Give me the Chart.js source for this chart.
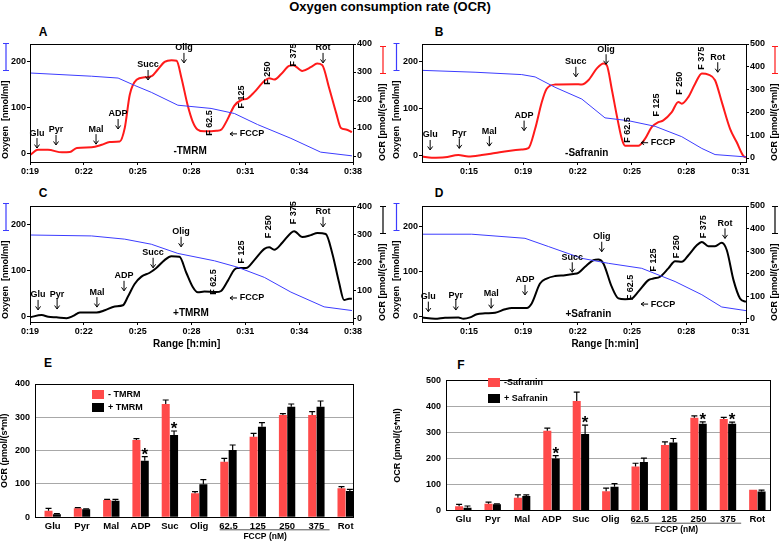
<!DOCTYPE html>
<html>
<head>
<meta charset="utf-8">
<title>Oxygen consumption rate (OCR)</title>
<script src="https://cdn.jsdelivr.net/npm/chart.js@4.4.1/dist/chart.umd.min.js"></script>
<style>
  body { margin: 0; background: #fff; }
  #page { position: relative; width: 780px; height: 541px; overflow: hidden; background: #fff;
          font-family: "Liberation Sans", Arial, sans-serif; font-weight: bold; color: #000; }
  #page canvas { position: absolute; }
  .lbl { position: absolute; transform: translate(-50%, -50%); line-height: 1; white-space: nowrap; }
</style>
</head>
<body>
<div id="page">
  <div class="lbl" style="left:390px;top:5.5px;font-size:13px">Oxygen consumption rate (OCR)</div>
  <div class="lbl" style="left:43px;top:32px;font-size:12px">A</div>
  <div class="lbl" style="left:439px;top:32px;font-size:12px">B</div>
  <div class="lbl" style="left:43px;top:193px;font-size:12px">C</div>
  <div class="lbl" style="left:439px;top:193px;font-size:12px">D</div>
  <div class="lbl" style="left:48px;top:363px;font-size:12px">E</div>
  <div class="lbl" style="left:461px;top:365px;font-size:12px">F</div>
  <canvas id="cA" width="390" height="152" style="left:0;top:28px"></canvas>
  <canvas id="cB" width="390" height="152" style="left:390px;top:28px"></canvas>
  <canvas id="cC" width="390" height="165" style="left:0;top:190px"></canvas>
  <canvas id="cD" width="390" height="165" style="left:390px;top:190px"></canvas>
  <canvas id="cE" width="390" height="171" style="left:0;top:370px"></canvas>
  <canvas id="cF" width="390" height="171" style="left:390px;top:370px"></canvas>
</div>
<script>
const FONT = '"Liberation Sans", Arial, sans-serif';
Chart.defaults.font.family = FONT;
Chart.defaults.font.weight = 'bold';
Chart.defaults.font.size = 9;
Chart.defaults.color = '#000';

const RED = '#ff1a1a', BLUE = '#3c3cff', BLACK = '#000000', BAR_RED = '#ff4a4a';

// time axes, minutes
const timeTicksAC = [19, 22, 25, 28, 31, 34, 37];
const timeLabelsAC = ['0:19', '0:22', '0:25', '0:28', '0:31', '0:34', '0:38'];
const timeTicksBD = [16, 19, 22, 25, 28, 31];
const timeLabelsBD = ['0:15', '0:19', '0:22', '0:25', '0:28', '0:31'];
const o2Ticks = [0, 100, 200];
const ocrTicksAC = [0, 100, 200, 300, 400];
const ocrTicksBD = [0, 100, 200, 300, 400, 500];

const evNames = ['Glu', 'Pyr', 'Mal', 'ADP', 'Succ', 'Olig', 'Rot'];
const fNames = ['F 62.5', 'F 125', 'F 250', 'F 375'];

// A: -TMRM
const aOcrT = [19.00,19.44,20.00,20.78,21.22,21.61,22.44,23.00,23.44,24.00,24.28,24.56,24.94,25.39,25.78,26.11,26.50,26.89,27.17,27.44,27.78,28.06,28.33,28.72,29.39,29.67,30.00,30.39,30.78,31.11,31.50,32.06,32.33,32.61,33.00,33.44,33.67,34.17,34.67,35.00,35.28,35.67,36.06,36.33,36.61,36.94];
const aOcrV = [3,22,22,13,14,29,31,40,50,52,100,219,272,281,285,308,336,342,340,279,183,124,95,88,90,95,130,180,200,205,228,268,278,273,293,322,324,304,318,330,325,243,154,100,95,85];
const aO2T = [19.00,22.43,23.91,24.83,25.76,27.24,29.09,30.39,31.68,33.54,35.20,36.94];
const aO2V = [176,169,165,149,134,106,99,88,64,34,4,-4];
const aEvT = [19.39,20.45,22.68,23.91,25.58,27.58,35.33];
const aEvV = [82,93,96,150,325,386,386];
const aFT = [29.03,30.76,32.21,33.66];
const aFV = [118,211,296,361];

// B: -Safranin
const bOcrT = [13.40,13.94,14.67,15.41,15.96,16.70,17.44,18.17,18.91,19.28,19.65,20.02,20.29,20.75,21.86,22.23,22.59,23.06,23.42,23.61,23.88,24.16,24.44,24.62,25.35,25.72,26.09,26.46,26.73,27.20,27.56,27.75,28.12,28.49,28.86,29.22,29.59,29.96,30.42,30.79,31.15,31.30];
const bOcrV = [7,1,3,13,7,13,22,31,37,43,128,246,304,322,324,322,341,393,415,407,304,187,84,54,54,84,135,157,165,201,246,238,268,326,371,366,341,246,128,69,10,3];
const bO2T = [13.40,16.33,18.91,19.65,20.75,22.23,23.51,24.80,26.28,27.75,28.86,29.59,31.30];
const bO2V = [182,178,173,168,146,121,81,75,63,41,16,3,-2];
const bEvT = [13.85,15.46,17.12,19.04,21.90,23.57,29.74];
const bEvV = [101,108,118,186,422,477,442];
const bFT = [24.75,26.37,27.62,28.86];
const bFV = [123,232,328,437];

// C: +TMRM
const cOcrT = [19.00,19.65,20.02,20.48,21.04,21.41,21.78,22.71,23.17,23.72,24.18,24.46,24.83,25.21,25.67,26.04,26.50,26.87,27.33,27.71,28.07,28.35,28.72,29.37,29.65,30.02,30.39,30.57,31.04,31.50,32.06,32.33,32.61,33.07,33.54,33.72,34.18,34.65,35.02,35.48,35.85,36.22,36.50,36.78,36.94];
const cOcrV = [6,14,8,6,3,11,23,23,31,45,49,80,125,151,165,182,210,224,222,165,114,95,98,96,100,136,176,182,182,210,250,256,247,273,307,313,292,299,307,303,233,131,68,72,72];
const cO2T = [19.00,22.43,24.28,25.76,27.24,29.28,30.57,32.06,33.54,35.39,36.94];
const cO2V = [178,176,169,158,138,122,108,86,54,22,14];
const cEvT = [19.45,20.51,22.73,24.24,25.86,27.42,35.33];
const cEvV = [86,89,96,154,236,311,382];
const cFT = [29.20,30.76,32.27,33.66];
const cFV = [132,239,329,379];

// D: +Safranin
const dOcrT = [13.40,14.12,14.67,15.41,15.69,16.06,16.43,16.88,17.44,17.99,18.36,19.19,19.46,19.92,20.29,20.75,21.30,21.76,22.04,22.41,22.87,23.14,23.42,23.88,24.25,24.62,24.99,25.35,25.91,26.18,26.55,27.01,27.38,27.75,28.12,28.58,28.86,29.22,29.59,29.96,30.24,30.61,30.97,31.30];
const dOcrV = [7,1,6,7,1,7,21,25,28,43,49,49,69,157,179,190,194,199,204,231,260,263,246,143,91,87,91,121,172,179,187,224,256,253,282,326,341,322,322,337,304,172,91,76];
const dO2T = [13.40,16.15,19.09,20.38,22.23,23.70,25.54,27.38,28.86,29.96,31.30];
const dO2V = [182,182,173,155,129,118,107,78,49,22,14];
const dEvT = [13.75,15.27,17.22,19.09,21.70,23.33,30.14];
const dEvV = [99,106,114,173,273,364,423];
const dFT = [24.90,26.18,27.47,28.94];
const dFV = [139,261,320,408];

// E / F bar summaries
const barCats = ['Glu', 'Pyr', 'Mal', 'ADP', 'Suc', 'Olig', '62.5', '125', '250', '375', 'Rot'];
const eMinus = [20,27,52,232,340,72,167,242,307,307,87];
const eMinusErr = [7,2,2,4,12,5,10,10,4,10,5];
const ePlus = [9,24,50,170,247,99,202,272,332,332,79];
const ePlusErr = [2,1,4,12,12,14,15,12,8,17,5];
const eStars = [3,4];
const fMinus = [17,27,50,307,421,75,170,252,357,352,80];
const fMinusErr = [7,6,11,10,34,12,12,12,7,6,0];
const fPlus = [11,25,56,200,294,92,187,262,334,334,74];
const fPlusErr = [7,1,5,11,34,12,15,15,7,6,5];
const fStars = [3,4,8,9];

function arrowDown(ctx, x, y0, y1) {
  ctx.beginPath();
  ctx.moveTo(x, y0); ctx.lineTo(x, y1);
  ctx.moveTo(x - 2.5, y1 - 3.5); ctx.lineTo(x, y1); ctx.lineTo(x + 2.5, y1 - 3.5);
  ctx.stroke();
}

function arrowLeft(ctx, x0, x1, y) {
  ctx.beginPath();
  ctx.moveTo(x1, y); ctx.lineTo(x0, y);
  ctx.moveTo(x0 + 3, y - 2); ctx.lineTo(x0, y); ctx.lineTo(x0 + 3, y + 2);
  ctx.stroke();
}

// rotated axis title with the little coloured bracket above it
function axisTitle(ctx, x, y, text, beamColor) {
  ctx.save();
  ctx.translate(x, y);
  ctx.rotate(-Math.PI / 2);
  ctx.textAlign = 'left'; ctx.textBaseline = 'middle';
  ctx.font = 'bold 9px ' + FONT;
  ctx.fillStyle = '#000';
  ctx.fillText(text, 0, 0);
  const s = ctx.measureText(text).width + 10, e = s + 27;
  ctx.strokeStyle = beamColor; ctx.lineWidth = 1.2;
  ctx.beginPath();
  ctx.moveTo(s, 0); ctx.lineTo(e, 0);
  ctx.moveTo(s, -3); ctx.lineTo(s, 3);
  ctx.moveTo(e, -3); ctx.lineTo(e, 3);
  ctx.stroke();
  ctx.restore();
}

function makeTrace(id, p) {
  const deco = {
    id: 'deco',
    afterDatasetsDraw(chart) {
      const { ctx, chartArea: a, scales: { x, yR } } = chart;
      const px = t => x.getPixelForValue(t), py = v => yR.getPixelForValue(v);
      ctx.save();
      ctx.strokeStyle = '#000'; ctx.lineWidth = 1;
      ctx.strokeRect(Math.round(a.left) + 0.5, Math.round(a.top) + 0.5,
                     Math.round(a.right - a.left), Math.round(a.bottom - a.top));
      ctx.fillStyle = '#000';
      ctx.textAlign = 'center'; ctx.textBaseline = 'middle';
      ctx.font = 'bold 9px ' + FONT;
      evNames.forEach((n, i) => {
        const X = px(p.evT[i]), Y = py(p.evV[i]);
        ctx.fillText(n, X, Y);
        arrowDown(ctx, X, Y + 5, Y + 15);
      });
      fNames.forEach((n, i) => {
        ctx.save();
        ctx.translate(px(p.fT[i]), py(p.fV[i]));
        ctx.rotate(-Math.PI / 2);
        ctx.fillText(n, 0, 0);
        ctx.restore();
      });
      const nx = px(p.note[0]), ny = py(p.note[1]);
      ctx.fillText('FCCP', nx, ny);
      arrowLeft(ctx, nx - 22, nx - 15, ny);
      ctx.font = 'bold 10px ' + FONT;
      ctx.fillText(p.cond[0], px(p.cond[1]), py(p.cond[2]));
      if (p.xTitleAt) ctx.fillText('Range [h:min]', px(p.xTitleAt), a.bottom + 22);
      ctx.restore();
      axisTitle(ctx, p.ltx, a.bottom - 3, 'Oxygen  [nmol/ml]', BLUE);
      axisTitle(ctx, p.rtx, a.bottom - 1, 'OCR [pmol/(s*ml)]', p.color);
    }
  };
  const tickGrid = { drawOnChartArea: false, tickLength: 3, tickColor: '#000' };
  new Chart(document.getElementById(id), {
    type: 'line',
    data: {
      datasets: [
        { data: p.o2T.map((t, i) => ({ x: t, y: p.o2V[i] })), yAxisID: 'yL',
          borderColor: BLUE, borderWidth: 1, tension: 0, pointRadius: 0 },
        { data: p.ocrT.map((t, i) => ({ x: t, y: p.ocrV[i] })), yAxisID: 'yR',
          borderColor: p.color, borderWidth: 2, cubicInterpolationMode: 'monotone', pointRadius: 0 }
      ]
    },
    options: {
      responsive: false, animation: false, devicePixelRatio: 1,
      layout: { padding: { top: 16, left: 0, right: 0, bottom: 0 } },
      plugins: { legend: { display: false }, tooltip: { enabled: false } },
      scales: {
        x: {
          type: 'linear', min: p.tMin, max: p.tMax,
          afterBuildTicks: s => { s.ticks = p.ticks.map(v => ({ value: v })); },
          afterFit: s => { s.height = p.xh; },
          ticks: { callback: (v, i) => p.tickLabels[i], padding: 1, maxRotation: 0, autoSkip: false },
          grid: tickGrid, border: { display: false }
        },
        yL: {
          position: 'left', min: p.lMin, max: p.lMax,
          afterBuildTicks: s => { s.ticks = o2Ticks.map(v => ({ value: v })); },
          afterFit: s => { s.width = p.lw; },
          ticks: { padding: 1 }, grid: tickGrid, border: { display: false }
        },
        yR: {
          position: 'right', min: p.rMin, max: p.rMax,
          afterBuildTicks: s => { s.ticks = p.rTicks.map(v => ({ value: v })); },
          afterFit: s => { s.width = p.rw; },
          ticks: { padding: 1 }, grid: tickGrid, border: { display: false }
        }
      }
    },
    plugins: [deco]
  });
}

function makeBars(id, p) {
  const deco = {
    id: 'barDeco',
    afterDatasetsDraw(chart) {
      const { ctx, chartArea: a, scales: { x, y } } = chart;
      ctx.save();
      ctx.strokeStyle = '#000'; ctx.lineWidth = 1;
      ctx.strokeRect(Math.round(a.left) + 0.5, Math.round(a.top) + 0.5,
                     Math.round(a.right - a.left), Math.round(a.bottom - a.top));
      // error bars, upper half only
      ctx.lineWidth = 1.2;
      [[p.minus, p.minusErr], [p.plus, p.plusErr]].forEach(([vals, errs], d) => {
        chart.getDatasetMeta(d).data.forEach((bar, i) => {
          if (!errs[i]) return;
          const top = y.getPixelForValue(vals[i] + errs[i]);
          ctx.beginPath();
          ctx.moveTo(bar.x, bar.y); ctx.lineTo(bar.x, top);
          ctx.moveTo(bar.x - 3, top); ctx.lineTo(bar.x + 3, top);
          ctx.stroke();
        });
      });
      ctx.fillStyle = '#000';
      ctx.textAlign = 'center'; ctx.textBaseline = 'alphabetic';
      ctx.font = 'bold 17px ' + FONT;
      p.stars.forEach(i => {
        const bar = chart.getDatasetMeta(1).data[i];
        ctx.fillText('*', bar.x, y.getPixelForValue(p.plus[i] + p.plusErr[i]) + 3);
      });
      // FCCP bracket under the concentration labels
      ctx.lineWidth = 1; ctx.strokeStyle = '#555';
      ctx.beginPath();
      ctx.moveTo(x.getPixelForValue(5.7), a.bottom + 12.5);
      ctx.lineTo(x.getPixelForValue(9.45), a.bottom + 12.5);
      ctx.stroke();
      ctx.textBaseline = 'middle';
      ctx.font = 'bold 8.5px ' + FONT;
      ctx.fillText('FCCP (nM)', x.getPixelForValue(7.25), a.bottom + 19);
      // legend
      ctx.textAlign = 'left';
      ctx.font = 'bold 9px ' + FONT;
      ctx.fillStyle = BAR_RED;
      ctx.fillRect(p.legX, p.legY[0], 12, 9);
      ctx.fillStyle = '#000';
      ctx.fillRect(p.legX, p.legY[1], 12, 9);
      ctx.fillText(p.legend[0], p.legX + 16, p.legY[0] + 4.5);
      ctx.fillText(p.legend[1], p.legX + 16, p.legY[1] + 4.5);
      // y title
      ctx.translate(p.titleX, (a.top + a.bottom) / 2);
      ctx.rotate(-Math.PI / 2);
      ctx.textAlign = 'center';
      ctx.fillText('OCR (pmol/(s*ml)', 0, 0);
      ctx.restore();
    }
  };
  new Chart(document.getElementById(id), {
    type: 'bar',
    data: {
      datasets: [
        { label: p.legend[0], data: p.minus.map((v, i) => ({ x: i, y: v })), backgroundColor: BAR_RED },
        { label: p.legend[1], data: p.plus.map((v, i) => ({ x: i, y: v })), backgroundColor: BLACK }
      ]
    },
    options: {
      responsive: false, animation: false, devicePixelRatio: 1,
      layout: { padding: { top: p.padTop, right: p.padRight, left: 0, bottom: 0 } },
      datasets: { bar: { categoryPercentage: 0.57, barPercentage: 0.96 } },
      plugins: { legend: { display: false }, tooltip: { enabled: false } },
      scales: {
        x: {
          type: 'linear', offset: false, min: p.xMin, max: p.xMax,
          afterBuildTicks: s => { s.ticks = barCats.map((c, i) => ({ value: i })); },
          afterFit: s => { s.height = p.xh; },
          ticks: { callback: (v, i) => barCats[i], padding: 3, maxRotation: 0, autoSkip: false, font: { size: 9.5 } },
          grid: { display: false, drawTicks: false }, border: { display: false }
        },
        y: {
          min: 0, max: p.yMax,
          afterFit: s => { s.width = p.yw; },
          ticks: { stepSize: 100, padding: 5 },
          grid: { color: '#a8a8a8', drawTicks: false }, border: { display: false }
        }
      }
    },
    plugins: [deco]
  });
}

makeTrace('cA', {
  ocrT: aOcrT, ocrV: aOcrV, o2T: aO2T, o2V: aO2V, evT: aEvT, evV: aEvV, fT: aFT, fV: aFV,
  note: [31.37, 79], cond: ['-TMRM', 27.92, 18], color: RED,
  tMin: 19, tMax: 37, ticks: timeTicksAC, tickLabels: timeLabelsAC,
  lMin: -17.4, lMax: 239, rMin: -21.4, rMax: 400, rTicks: ocrTicksAC,
  lw: 30, rw: 37, xh: 18, ltx: 6, rtx: 383
});
makeTrace('cB', {
  ocrT: bOcrT, ocrV: bOcrV, o2T: bO2T, o2V: bO2V, evT: bEvT, evV: bEvV, fT: bFT, fV: bFV,
  note: [26.72, 67], cond: ['-Safranin', 22.50, 21], color: RED,
  tMin: 13.40, tMax: 31.30, ticks: timeTicksBD, tickLabels: timeLabelsBD,
  lMin: -12.8, lMax: 238, rMin: -17.5, rMax: 500, rTicks: ocrTicksBD,
  lw: 32, rw: 34, xh: 18, ltx: 6.5, rtx: 385
});
makeTrace('cC', {
  ocrT: cOcrT, ocrV: cOcrV, o2T: cO2T, o2V: cO2V, evT: cEvT, evV: cEvV, fT: cFT, fV: cFV,
  note: [31.37, 75], cond: ['+TMRM', 27.97, 21], color: BLACK, xTitleAt: 27.73,
  tMin: 19, tMax: 37, ticks: timeTicksAC, tickLabels: timeLabelsAC,
  lMin: -10.9, lMax: 241, rMin: -10.7, rMax: 403, rTicks: ocrTicksAC,
  lw: 30, rw: 37, xh: 33, ltx: 6, rtx: 383
});
makeTrace('cD', {
  ocrT: dOcrT, ocrV: dOcrV, o2T: dO2T, o2V: dO2V, evT: dEvT, evV: dEvV, fT: dFT, fV: dFV,
  note: [26.72, 66], cond: ['+Safranin', 22.59, 22], color: BLACK, xTitleAt: 23.51,
  tMin: 13.40, tMax: 31.30, ticks: timeTicksBD, tickLabels: timeLabelsBD,
  lMin: -11, lMax: 244, rMin: -13.3, rMax: 500, rTicks: ocrTicksBD,
  lw: 32, rw: 34, xh: 33, ltx: 6.5, rtx: 385
});

makeBars('cE', {
  minus: eMinus, minusErr: eMinusErr, plus: ePlus, plusErr: ePlusErr, stars: eStars,
  legend: ['- TMRM', '+ TMRM'], legX: 92, legY: [20, 33],
  xMin: -0.604, xMax: 10.25, yMax: 400, padTop: 14, padRight: 37, yw: 35, xh: 23.7, titleX: 5
});
makeBars('cF', {
  minus: fMinus, minusErr: fMinusErr, plus: fPlus, plusErr: fPlusErr, stars: fStars,
  legend: ['-Safranin', '+ Safranin'], legX: 98, legY: [8, 24],
  xMin: -0.588, xMax: 10.43, yMax: 500, padTop: 6.7, padRight: 10, yw: 56, xh: 30.3, titleX: 8
});
</script>
</body>
</html>
